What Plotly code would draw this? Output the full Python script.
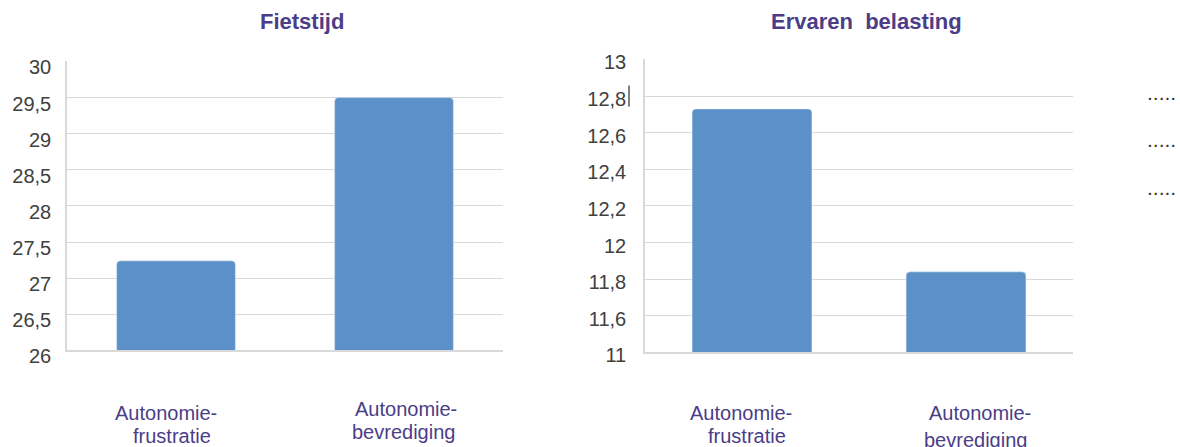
import plotly.graph_objects as go

W, H = 1180, 447

# ---- data ----
categories = ["Autonomie-frustratie", "Autonomie-bevrediging"]
fietstijd = [27.24, 29.5]
belasting = [12.73, 11.84]

left_ticks = [26, 26.5, 27, 27.5, 28, 28.5, 29, 29.5, 30]
left_ticktext = ["26", "26,5", "27", "27,5", "28", "28,5", "29", "29,5", "30"]
right_ticks = [11.4, 11.6, 11.8, 12.0, 12.2, 12.4, 12.6, 12.8, 13.0]
right_ticktext = ["11", "11,6", "11,8", "12", "12,2", "12,4", "12,6", "12,8", "13"]

titles = ["Fietstijd", "Ervaren  belasting"]

BAR = "#5b91c8"
GRID = "#d9d9d9"
TICK = "#404040"
PURPLE = "#4b3d87"
FONT = "Liberation Sans, Arial, sans-serif"

# empirical correction of the screenshot's vertical mapping
VA, VB = 8.7, 0.941


def px(x):
    return x / W


def py(y):
    ym = (y - VA) / VB
    return 1 - ym / H


fig = go.Figure()
fig.add_trace(go.Bar(x=categories, y=fietstijd, marker=dict(color=BAR, cornerradius=4),
                     width=0.545, xaxis="x", yaxis="y", hoverinfo="y"))
fig.add_trace(go.Bar(x=categories, y=belasting, marker=dict(color=BAR, cornerradius=4),
                     width=0.56, xaxis="x2", yaxis="y2", hoverinfo="y"))

common_x = dict(showticklabels=False, showgrid=False, showline=True, linecolor=GRID,
                linewidth=1.5, ticks="", zeroline=False, fixedrange=True)
common_y = dict(showgrid=True, gridcolor=GRID, gridwidth=1, showline=True, linecolor=GRID,
                linewidth=1.5, zeroline=False, ticks="",
                tickfont=dict(family=FONT, size=20, color=TICK), fixedrange=True)

fig.update_layout(
    width=W, height=H,
    autosize=False,
    margin=dict(l=0, r=0, t=0, b=0, pad=0),
    paper_bgcolor="white", plot_bgcolor="white",
    showlegend=False,
    xaxis=dict(domain=[px(67), px(503)], anchor="y", **common_x),
    yaxis=dict(domain=[py(350), py(62)], range=[26, 30], tickvals=left_ticks,
               ticktext=left_ticktext, anchor="x", ticklabelstandoff=10,
               ticklabelshift=6, **common_y),
    xaxis2=dict(domain=[px(645), px(1073)], anchor="y2", **common_x),
    yaxis2=dict(domain=[py(352), py(60)], range=[11.4, 13], tickvals=right_ticks,
                ticktext=right_ticktext, anchor="x2", ticklabelstandoff=13,
                ticklabelshift=3, **common_y),
)

annotations = []
# titles
for t, xc in zip(titles, [302, 866]):
    annotations.append(dict(text="<b>" + t + "</b>", x=px(xc), y=py(22), xref="paper", yref="paper",
                            showarrow=False, xanchor="center", yanchor="middle",
                            font=dict(family=FONT, size=22, color=PURPLE)))

# category labels (two-line text boxes)
label_pos = [
    ("Autonomie-", "frustratie", 166, 412, 172, 435),
    ("Autonomie-", "bevrediging", 406, 408, 403, 431),
    ("Autonomie-", "frustratie", 741, 412, 747, 435),
    ("Autonomie-", "bevrediging", 980, 412, 976, 439),
]
for l1, l2, x1, y1, x2, y2 in label_pos:
    for txt, xx, yy in [(l1, x1, y1), (l2, x2, y2)]:
        annotations.append(dict(text=txt, x=px(xx), y=py(yy), xref="paper", yref="paper",
                                showarrow=False, xanchor="center", yanchor="middle",
                                font=dict(family=FONT, size=20, color=PURPLE)))

# dotted placeholders at right
for yy in [97, 144, 192]:
    annotations.append(dict(text=".....", x=px(1145), y=py(yy - 4), xref="paper", yref="paper",
                            showarrow=False, xanchor="left", yanchor="middle",
                            font=dict(family=FONT, size=21, color="#333333")))

fig.update_layout(annotations=annotations)

# text cursor artifact after 12,8
fig.add_shape(type="line", xref="paper", yref="paper", x0=px(629), x1=px(629),
              y0=py(86), y1=py(107), line=dict(color="black", width=1))

fig.write_html("out.html", config={"responsive": False, "displayModeBar": False},
               post_script="document.body.style.margin='0';document.body.style.overflow='hidden';")
